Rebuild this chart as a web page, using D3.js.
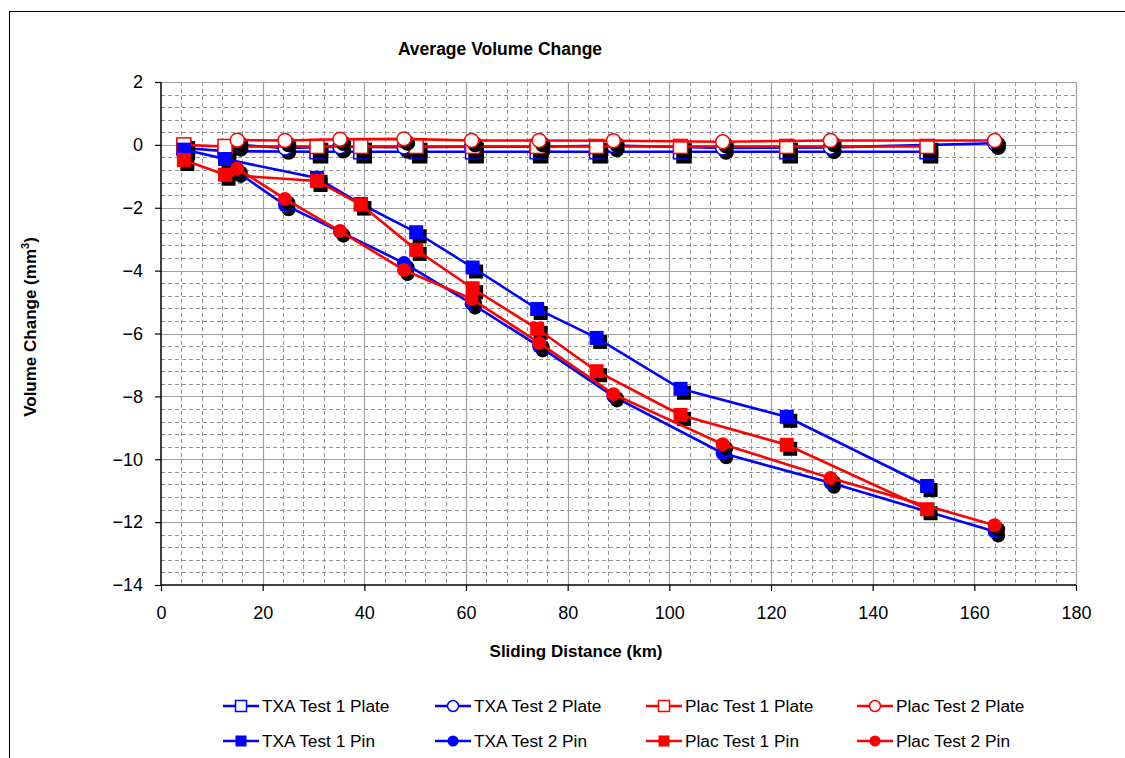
<!DOCTYPE html>
<html lang="en">
<head>
<meta charset="UTF-8">
<title>Average Volume Change</title>
<script src="https://d3js.org/d3.v7.min.js"></script>
<style>
    body { margin: 0; background: #fff; }
    text { font-family: "Liberation Sans", Arial, sans-serif; fill: #000; }
    .tick text { font-size: 18px; }
    .title { font-weight: bold; font-size: 17.5px; }
    .axis-label { font-weight: bold; font-size: 17px; }
    .legend text { font-size: 17.3px; }
</style>
</head>
<body>
<svg id="chart" width="1125" height="758"></svg>
<script>
    // sliding distance (km) for the two test runs
    const test1X = [4.5, 12.6, 30.7, 39.3, 50.2, 61.3, 74.0, 85.7, 102.2, 123.1, 150.7];
    const test2X = [15.0, 24.4, 35.2, 47.8, 61.1, 74.4, 89.0, 110.5, 131.7, 164.0];

    // volume change (mm3)
    const txa1Plate  = [-0.10, -0.20, -0.22, -0.22, -0.22, -0.22, -0.22, -0.22, -0.22, -0.22, -0.22];
    const txa2Plate  = [0.00, -0.10, -0.06, -0.07, -0.06, -0.06, -0.02, -0.10, -0.08, 0.05];
    const plac1Plate = [0.00, -0.05, -0.05, -0.05, -0.05, -0.05, -0.05, -0.05, -0.05, -0.05, -0.05];
    const plac2Plate = [0.15, 0.14, 0.18, 0.19, 0.14, 0.14, 0.13, 0.10, 0.14, 0.14];
    const txa1Pin    = [-0.15, -0.45, -1.05, -1.88, -2.78, -3.90, -5.22, -6.14, -7.76, -8.65, -10.85];
    const txa2Pin    = [-0.86, -1.92, -2.76, -3.76, -5.05, -6.41, -8.00, -9.81, -10.75, -12.30];
    const plac1Pin   = [-0.48, -0.95, -1.15, -1.90, -3.34, -4.56, -5.85, -7.20, -8.59, -9.54, -11.59];
    const plac2Pin   = [-0.75, -1.72, -2.74, -3.98, -4.90, -6.30, -7.93, -9.52, -10.60, -12.10];

    const xTicks = [0, 20, 40, 60, 80, 100, 120, 140, 160, 180];
    const yTicks = [2, 0, -2, -4, -6, -8, -10, -12, -14];

    const series = [
        {name: "TXA Test 1 Plate",  xs: test1X, ys: txa1Plate,  color: "#0000ff", shape: "square", fill: false},
        {name: "TXA Test 2 Plate",  xs: test2X, ys: txa2Plate,  color: "#0000ff", shape: "circle", fill: false},
        {name: "Plac Test 1 Plate", xs: test1X, ys: plac1Plate, color: "#ff0000", shape: "square", fill: false},
        {name: "Plac Test 2 Plate", xs: test2X, ys: plac2Plate, color: "#ff0000", shape: "circle", fill: false},
        {name: "TXA Test 1 Pin",    xs: test1X, ys: txa1Pin,    color: "#0000ff", shape: "square", fill: true},
        {name: "TXA Test 2 Pin",    xs: test2X, ys: txa2Pin,    color: "#0000ff", shape: "circle", fill: true},
        {name: "Plac Test 1 Pin",   xs: test1X, ys: plac1Pin,   color: "#ff0000", shape: "square", fill: true},
        {name: "Plac Test 2 Pin",   xs: test2X, ys: plac2Pin,   color: "#ff0000", shape: "circle", fill: true}
    ];

    const svg = d3.select("#chart");

    // outer chart frame
    svg.append("rect")
        .attr("x", 9.5).attr("y", 11.5)
        .attr("width", 1130).attr("height", 760)
        .attr("fill", "#fff").attr("stroke", "#000");

    const x = d3.scaleLinear().domain([0, 180]).range([161, 1076]);
    const y = d3.scaleLinear().domain([-14, 2]).range([585, 82]);

    // minor dashed grid
    const g = svg.append("g");
    g.selectAll(".vminor")
        .data(d3.range(0, 181, 4).filter(v => v % 20 !== 0))
        .enter().append("line")
        .attr("x1", d => Math.round(x(d)) + 0.5).attr("x2", d => Math.round(x(d)) + 0.5)
        .attr("y1", y(2)).attr("y2", y(-14))
        .attr("stroke", "#939393").attr("stroke-dasharray", "4,3");
    g.selectAll(".hminor")
        .data(d3.range(-14, 2.01, 0.4).filter(v => Math.abs(Math.round(v / 2) * 2 - v) > 0.01))
        .enter().append("line")
        .attr("y1", d => Math.round(y(d)) + 0.5).attr("y2", d => Math.round(y(d)) + 0.5)
        .attr("x1", x(0)).attr("x2", x(180))
        .attr("stroke", "#939393").attr("stroke-dasharray", "4,3");

    // major solid grid
    g.selectAll(".vmajor")
        .data(xTicks.slice(1))
        .enter().append("line")
        .attr("x1", d => Math.round(x(d)) + 0.5).attr("x2", d => Math.round(x(d)) + 0.5)
        .attr("y1", y(2)).attr("y2", y(-14))
        .attr("stroke", "#a0a0a0").attr("stroke-width", 1.2);
    g.selectAll(".hmajor")
        .data(yTicks.slice(0, -1))
        .enter().append("line")
        .attr("y1", d => Math.round(y(d)) + 0.5).attr("y2", d => Math.round(y(d)) + 0.5)
        .attr("x1", x(0)).attr("x2", x(180))
        .attr("stroke", "#a0a0a0").attr("stroke-width", 1.2);

    // axes
    const xAxis = svg.append("g")
        .attr("transform", `translate(0,${y(-14)})`)
        .call(d3.axisBottom(x).tickValues(xTicks).tickSize(6).tickPadding(15));
    const yAxis = svg.append("g")
        .attr("transform", `translate(${x(0)},0)`)
        .call(d3.axisLeft(y).tickValues(yTicks).tickSize(6).tickPadding(12));
    [xAxis, yAxis].forEach(ax => {
        ax.select(".domain").attr("stroke", "#000").attr("stroke-width", 1.5);
        ax.selectAll(".tick line").attr("stroke", "#000").attr("stroke-width", 1.2);
        ax.selectAll(".tick text").attr("font-family", null).attr("font-size", null);
    });
    xAxis.select(".domain").attr("d", `M${x(0)},0H${x(180)}`);
    yAxis.select(".domain").attr("d", `M0,${y(2)}V${y(-14)}`);

    // titles
    svg.append("text").attr("class", "title")
        .attr("x", 500).attr("y", 55).attr("text-anchor", "middle")
        .text("Average Volume Change");
    svg.append("text").attr("class", "axis-label")
        .attr("x", 576).attr("y", 657).attr("text-anchor", "middle")
        .text("Sliding Distance (km)");
    const yl = svg.append("text").attr("class", "axis-label")
        .attr("transform", "translate(36,327) rotate(-90)")
        .attr("text-anchor", "middle");
    yl.append("tspan").text("Volume Change (mm");
    yl.append("tspan").attr("dy", -7).attr("font-size", "11px").text("3");
    yl.append("tspan").attr("dy", 7).text(")");

    const line = d3.line().x(d => x(d[0])).y(d => y(d[1]));
    const markSize = 14;

    function drawMarker(sel, s, cx, cy, size, shadow) {
        if (s.shape === "square") {
            sel.append("rect")
                .attr("x", cx - size / 2).attr("y", cy - size / 2)
                .attr("width", size).attr("height", size)
                .attr("fill", shadow ? "#000" : (s.fill ? s.color : "#fff"))
                .attr("stroke", shadow ? "#000" : s.color)
                .attr("stroke-width", s.fill ? 0 : 1.5);
        } else {
            sel.append("circle")
                .attr("cx", cx).attr("cy", cy).attr("r", size / 2)
                .attr("fill", shadow ? "#000" : (s.fill ? s.color : "#fff"))
                .attr("stroke", shadow ? "#000" : s.color)
                .attr("stroke-width", s.fill ? 0 : 1.5);
        }
    }

    series.forEach(s => {
        const pts = s.xs.map((v, i) => [v, s.ys[i]]);
        const sg = svg.append("g");
        pts.forEach(p => drawMarker(sg, s, x(p[0]) + 3.5, y(p[1]) + 4, markSize, true));
        sg.append("path")
            .attr("d", line(pts))
            .attr("fill", "none")
            .attr("stroke", s.color)
            .attr("stroke-width", 2.6);
        pts.forEach(p => drawMarker(sg, s, x(p[0]), y(p[1]), markSize, false));
    });

    // legend, two rows of four
    const legendX = [223, 435, 646, 857];
    const legendY = [706, 741];
    const legend = svg.append("g").attr("class", "legend");
    series.forEach((s, i) => {
        const lx = legendX[i % 4], ly = legendY[Math.floor(i / 4)];
        const lg = legend.append("g");
        lg.append("line")
            .attr("x1", lx).attr("x2", lx + 36)
            .attr("y1", ly).attr("y2", ly)
            .attr("stroke", s.color).attr("stroke-width", 2.6);
        drawMarker(lg, s, lx + 18, ly, 11, false);
        lg.append("text")
            .attr("x", lx + 39).attr("y", ly + 6)
            .text(s.name);
    });
</script>
</body>
</html>
